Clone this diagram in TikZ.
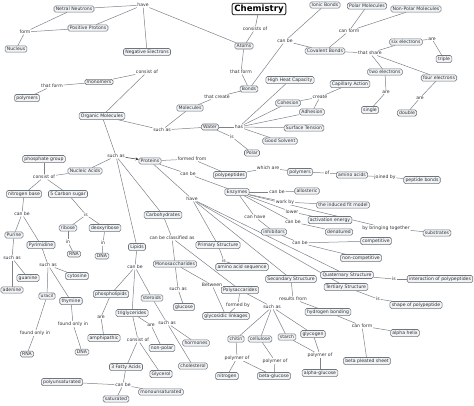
\documentclass[tikz,border=0pt]{standalone}
\usepackage{fontspec}
\setmainfont{DejaVu Sans}
\usetikzlibrary{arrows.meta,backgrounds}
\definecolor{boxline}{HTML}{6E757C}
\definecolor{boxfill}{HTML}{F1F3F5}
\definecolor{lineclr}{HTML}{7C8288}
\definecolor{txt}{HTML}{2E3135}
\begin{document}
\begin{tikzpicture}[x=1pt,y=-1pt,
 cbox/.style={draw=boxline, fill=boxfill, rounded corners=1.6pt, line width=0.55pt, inner xsep=1.8pt, inner ysep=1.3pt, font=\fontsize{4.6}{5}\selectfont, text=txt},
 lbl/.style={fill=white, inner sep=0.6pt, font=\fontsize{4.6}{5}\selectfont, text=txt},
 ttl/.style={draw=black!85, fill=white, rounded corners=2pt, line width=0.9pt, inner xsep=2.2pt, inner ysep=1.6pt, font=\fontsize{8.6}{9}\selectfont\bfseries, text=black},
 ln/.style={draw=lineclr, line width=0.5pt},
 arr/.style={ln, -{Stealth[length=3.2pt,width=3pt]}, draw=black!80}]
\useasboundingbox (0,0) rectangle (474,405);
% title
\node[ttl] (chem) at (259,9) {Chemistry};
% concepts
\node[cbox] (neut) at (74,9) {Netral Neutrons};
\node[cbox] (prot) at (88,28) {Positive Protons};
\node[cbox] (nucl) at (16,49) {Nucleus};
\node[cbox] (elec) at (147,52) {Negative Electrons};
\node[cbox] (atoms) at (244,46) {Atoms};
\node[cbox] (bonds) at (249,89) {Bonds};
\node[cbox] (ionic) at (325,5) {Ionic Bonds};
\node[cbox] (coval) at (325,51) {Covalent Bonds};
\node[cbox] (polmol) at (367,6) {Polar Molecules};
\node[cbox] (npolmol) at (416,9) {Non-Polar Molecules};
\node[cbox] (six) at (406,42) {six electrons};
\node[cbox] (triple) at (444,59) {triple};
\node[cbox] (two) at (385,72) {two electrons};
\node[cbox] (single) at (370,110) {single};
\node[cbox] (four) at (439,78) {four electrons};
\node[cbox] (double) at (407,113) {double};
\node[cbox] (monom) at (99,82) {monomers};
\node[cbox] (polym1) at (27,98) {polymers};
\node[cbox] (orgmol) at (102,116) {Organic Molecules};
\node[cbox] (molec) at (190,108) {Molecules};
\node[cbox] (water) at (210,127) {Water};
\node[cbox] (hhc) at (290,80) {High Heat Capacity};
\node[cbox] (cohes) at (288,103) {Cohesion};
\node[cbox] (capil) at (350,84) {Capillary Action};
\node[cbox] (adhes) at (312,112) {Adhesion};
\node[cbox] (surft) at (304,128) {Surface Tension};
\node[cbox] (goods) at (280,141) {Good Solvent};
\node[cbox] (polar) at (252,153) {Polar};
\node[cbox] (prots) at (150,161) {Proteins};
\node[cbox] (polypep) at (230,175) {polypeptides};
\node[cbox] (polym2) at (300,172) {polymers};
\node[cbox] (amino) at (352,175) {amino acids};
\node[cbox] (peptide) at (422,180) {peptide bonds};
\node[cbox] (enzym) at (237,192) {Enzymes};
\node[cbox] (allos) at (307,191) {allosteric};
\node[cbox] (induced) at (343,205) {the induced fit model};
\node[cbox] (activ) at (330,220) {activation energy};
\node[cbox] (denat) at (339,232) {denatured};
\node[cbox] (inhib) at (274,232) {inhibitors};
\node[cbox] (substr) at (437,233) {substrates};
\node[cbox] (compet) at (376,241) {competitive};
\node[cbox] (noncomp) at (361,258) {non-competitive};
\node[cbox] (primary) at (218,245) {Primary Structure};
\node[cbox] (aaseq) at (242,267) {amino acid sequence};
\node[cbox] (second) at (291,279) {Secondary Structure};
\node[cbox] (quat) at (347,275) {Quaternary Structure};
\node[cbox] (interact) at (440,279) {interaction of polypeptides};
\node[cbox] (tert) at (346,287) {Tertiary Structure};
\node[cbox] (shape) at (416,305) {shape of polypeptide};
\node[cbox] (hbond) at (328,312) {hydrogen bonding};
\node[cbox] (alpha) at (405,333) {alpha helix};
\node[cbox] (betash) at (367,361) {beta pleated sheet};
\node[cbox] (phos) at (44,159) {phosphate group};
\node[cbox] (nucac) at (85,171) {Nucleic Acids};
\node[cbox] (nbase) at (24,194) {nitrogen base};
\node[cbox] (carbsug) at (68,194) {5 Carbon sugar};
\node[cbox] (ribose) at (68,228) {ribose};
\node[cbox] (deoxy) at (105,228) {deoxyribose};
\node[cbox] (rna1) at (74,254) {RNA};
\node[cbox] (dna1) at (102,256) {DNA};
\node[cbox] (purine) at (14,235) {Purine};
\node[cbox] (pyrim) at (41,245) {Pyrimidine};
\node[cbox] (adenine) at (12,290) {adenine};
\node[cbox] (guanine) at (28,278) {guanine};
\node[cbox] (cytos) at (77,276) {cytosine};
\node[cbox] (uracil) at (47,296) {uracil};
\node[cbox] (thymine) at (71,301) {thymine};
\node[cbox] (rna2) at (27,354) {RNA};
\node[cbox] (dna2) at (82,352) {DNA};
\node[cbox] (carbo) at (163,215) {Carbohydrates};
\node[cbox] (lipids) at (137,247) {Lipids};
\node[cbox] (monos) at (175,264) {Monosaccharides};
\node[cbox] (glucose) at (184,307) {glucose};
\node[cbox] (polys) at (240,290) {Polysaccarides};
\node[cbox] (glycos) at (226,316) {glycosidic linkages};
\node[cbox] (chitin) at (236,339) {chitin};
\node[cbox] (cellul) at (260,339) {cellulose};
\node[cbox] (starch) at (287,337) {starch};
\node[cbox] (glycog) at (313,334) {glycogen};
\node[cbox] (nitro) at (227,376) {nitrogen};
\node[cbox] (betagl) at (274,376) {beta-glucose};
\node[cbox] (alphagl) at (320,373) {alpha-glucose};
\node[cbox] (phosl) at (111,294) {phospholipids};
\node[cbox] (amphi) at (104,338) {amphipathic};
\node[cbox] (steroid) at (152,298) {steroids};
\node[cbox] (trigl) at (132,313) {triglycerides};
\node[cbox] (hormon) at (196,343) {hormones};
\node[cbox] (chol) at (193,366) {cholesterol};
\node[cbox] (nonpol) at (162,348) {non-polar};
\node[cbox] (fatty) at (126,367) {3 Fatty Acids};
\node[cbox] (glycer) at (161,374) {Glycerol};
\node[cbox] (polyun) at (62,382) {polyunsaturated};
\node[cbox] (monoun) at (161,392) {monounsaturated};
\node[cbox] (satur) at (116,399) {saturated};
% link labels
\node[lbl] (have1) at (143,5) {have};
\node[lbl] (form1) at (25,32) {form};
\node[lbl] (consists) at (255,29) {consists of};
\node[lbl] (thatform1) at (241,72) {that form};
\node[lbl] (canbe1) at (285,41) {can be};
\node[lbl] (canform1) at (349,31) {can form};
\node[lbl] (thatshare) at (370,53) {that share};
\node[lbl] (are1) at (432,39) {are};
\node[lbl] (are2) at (386,92) {are};
\node[lbl] (are3) at (420,98) {are};
\node[lbl] (thatcreate) at (217,97) {that create};
\node[lbl] (thatform2) at (52,86) {that form};
\node[lbl] (consistof1) at (147,72) {consist of};
\node[lbl] (suchas2) at (162,130) {such as};
\node[lbl] (has) at (239,127) {has};
\node[lbl] (is0) at (232,137) {is};
\node[lbl] (create) at (320,97) {create};
\node[lbl] (suchas1) at (116,156) {such as};
\node[lbl] (formedfrom) at (192,159) {formed from};
\node[lbl] (whichare) at (268,168) {which are};
\node[lbl] (of) at (327,173) {of};
\node[lbl] (joinedby) at (385,177) {joined by};
\node[lbl] (canbe3) at (188,174) {can be};
\node[lbl] (canbe4) at (277,192) {can be};
\node[lbl] (workby) at (285,202) {work by};
\node[lbl] (lower) at (292,212) {lower};
\node[lbl] (canbe5) at (293,222) {can be};
\node[lbl] (canhave) at (255,217) {can have};
\node[lbl] (bybring) at (386,228) {by bringing together};
\node[lbl] (canbe6) at (300,243) {can be};
\node[lbl] (have2) at (192,199) {have};
\node[lbl] (is2) at (224,261) {is};
\node[lbl] (is3) at (394,279) {is};
\node[lbl] (is4) at (378,299) {is};
\node[lbl] (results) at (293,299) {results from};
\node[lbl] (canform2) at (362,326) {can form};
\node[lbl] (consistof2) at (44,177) {consist of};
\node[lbl] (is1) at (86,215) {is};
\node[lbl] (in1) at (68,242) {in};
\node[lbl] (in2) at (103,243) {in};
\node[lbl] (canbe2) at (22,214) {can be};
\node[lbl] (suchas3) at (12,258) {such as};
\node[lbl] (suchas4) at (48,265) {such as};
\node[lbl] (fo1) at (35,333) {found only in};
\node[lbl] (fo2) at (73,324) {found only in};
\node[lbl] (classif) at (172,238) {can be classified as};
\node[lbl] (canbe7) at (135,267) {can be};
\node[lbl] (suchas5) at (178,289) {such as};
\node[lbl] (between) at (212,285) {Between};
\node[lbl] (formedby) at (238,305) {formed by};
\node[lbl] (suchas6) at (272,307) {such as};
\node[lbl] (polyof1) at (237,358) {polymer of};
\node[lbl] (polyof2) at (275,361) {polymer of};
\node[lbl] (polyof3) at (320,355) {polymer of};
\node[lbl] (are4) at (101,317) {are};
\node[lbl] (suchas7) at (167,323) {such as};
\node[lbl] (are5) at (151,325) {are};
\node[lbl] (consistof3) at (138,340) {consist of};
\node[lbl] (canbe8) at (123,385) {can be};
% connectors
\begin{scope}[on background layer]
\foreach \a/\b in {chem/consists,consists/atoms,atoms/have1,have1/neut,have1/prot,have1/elec,
 neut/form1,prot/form1,form1/nucl,atoms/thatform1,thatform1/bonds,
 bonds/canbe1,canbe1/ionic,canbe1/coval,coval/canform1,canform1/polmol,canform1/npolmol,
 coval/thatshare,thatshare/six,thatshare/two,thatshare/four,
 six/are1,are1/triple,two/are2,are2/single,four/are3,are3/double,
 bonds/thatcreate,thatcreate/molec,monom/thatform2,thatform2/polym1,
 monom/consistof1,consistof1/orgmol,orgmol/suchas2,molec/suchas2,suchas2/water,
 water/has,has/hhc,has/cohes,has/adhes,has/surft,has/goods,water/is0,is0/polar,
 cohes/create,adhes/create,create/capil,
 orgmol/suchas1,suchas1/nucac,suchas1/carbo,suchas1/lipids,
 prots/formedfrom,formedfrom/polypep,polypep/whichare,whichare/polym2,polym2/of,of/amino,amino/joinedby,joinedby/peptide,
 prots/canbe3,canbe3/enzym,enzym/canbe4,canbe4/allos,enzym/workby,workby/induced,enzym/lower,lower/activ,
 enzym/canbe5,canbe5/denat,enzym/canhave,canhave/inhib,enzym/bybring,bybring/substr,
 inhib/canbe6,canbe6/compet,canbe6/noncomp,
 prots/have2,have2/primary,have2/second,have2/tert,have2/quat,
 primary/is2,is2/aaseq,quat/is3,is3/interact,tert/is4,is4/shape,
 second/results,results/hbond,hbond/canform2,canform2/alpha,canform2/betash,
 nucac/consistof2,consistof2/phos,consistof2/nbase,consistof2/carbsug,
 carbsug/is1,is1/ribose,is1/deoxy,ribose/in1,in1/rna1,deoxy/in2,in2/dna1,
 nbase/canbe2,canbe2/purine,canbe2/pyrim,purine/suchas3,suchas3/adenine,suchas3/guanine,
 pyrim/suchas4,suchas4/cytos,suchas4/uracil,suchas4/thymine,
 uracil/fo1,fo1/rna2,thymine/fo2,fo2/dna2,
 carbo/classif,classif/monos,classif/polys,monos/suchas5,suchas5/glucose,
 monos/between,between/glycos,polys/formedby,formedby/glycos,
 polys/suchas6,suchas6/chitin,suchas6/cellul,suchas6/starch,suchas6/glycog,
 chitin/polyof1,polyof1/nitro,polyof1/betagl,cellul/polyof2,polyof2/betagl,
 starch/polyof3,glycog/polyof3,polyof3/alphagl,
 lipids/canbe7,canbe7/phosl,canbe7/steroid,canbe7/trigl,phosl/are4,are4/amphi,
 steroid/suchas7,suchas7/hormon,suchas7/chol,trigl/are5,are5/nonpol,
 trigl/consistof3,consistof3/fatty,consistof3/glycer,
 fatty/canbe8,canbe8/polyun,canbe8/monoun,canbe8/satur}
 \draw[ln] (\a) -- (\b);
\end{scope}
\draw[arr] (suchas1) -- (prots);
\end{tikzpicture}
\end{document}
